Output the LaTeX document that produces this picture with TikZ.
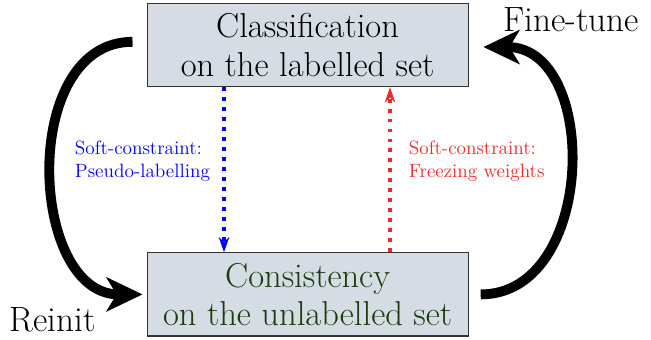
\documentclass[tikz,border=0pt]{standalone}
\usetikzlibrary{arrows.meta}
\definecolor{boxgray}{RGB}{214,220,228}
\definecolor{darkgreen}{RGB}{26,61,15}
\definecolor{softred}{RGB}{240,40,40}
\tikzset{stage node/.style={rectangle,fill=boxgray,draw=black!80,line width=0.8pt,minimum width=8.025cm,minimum height=2.08cm,align=center,inner sep=2pt,font=\fontsize{24.6}{27.5}\selectfont},
  loop arrow/.style={line width=7pt,-{Stealth[length=0.9cm,width=0.85cm,inset=0.25cm]}},
  soft arrow/.style={line width=2.8pt,dash pattern=on 2.8pt off 4.3pt,-{Stealth[length=0.38cm,width=0.26cm]}},
  soft label/.style={align=left,font=\fontsize{13.7}{15.8}\selectfont},
  step label/.style={font=\fontsize{25}{28}\selectfont}}
\begin{document}
\begin{tikzpicture}
  \useasboundingbox (0,0) rectangle (16.275,-8.475);
  %% Nodes
  \node[stage node] (labelled) at (7.69,-1.125) {Classification\\on the labelled set};
  \node[stage node,text=darkgreen] (unlabelled) at (7.69,-7.36) {Consistency\\on the unlabelled set};
  \node[soft label,text=blue,anchor=west] (pseudo) at (1.75,-4.03) {Soft-constraint:\\Pseudo-labelling};
  \node[soft label,text=softred,anchor=west] (freeze) at (10.1,-4.03) {Soft-constraint:\\Freezing weights};
  \node[step label] (reinit) at (1.31,-8.0) {Reinit};
  \node[step label] (finetune) at (14.28,-0.5) {Fine-tune};
  %% Paths
  \draw[soft arrow,blue] ([xshift=-2.09cm]labelled.south) -- ([xshift=-2.09cm]unlabelled.north);
  \draw[soft arrow,softred] ([xshift=2.06cm]unlabelled.north) -- ([xshift=2.06cm]labelled.south);
  \draw[loop arrow] ([xshift=-0.35cm,yshift=0.08cm]labelled.west) to[out=180,in=180,looseness=1.15] ([xshift=-0.1cm]unlabelled.west);
  \draw[loop arrow] ([xshift=0.3cm]unlabelled.east) to[out=0,in=0,looseness=1.2] ([xshift=0.37cm,yshift=-0.05cm]labelled.east);
\end{tikzpicture}
\end{document}
